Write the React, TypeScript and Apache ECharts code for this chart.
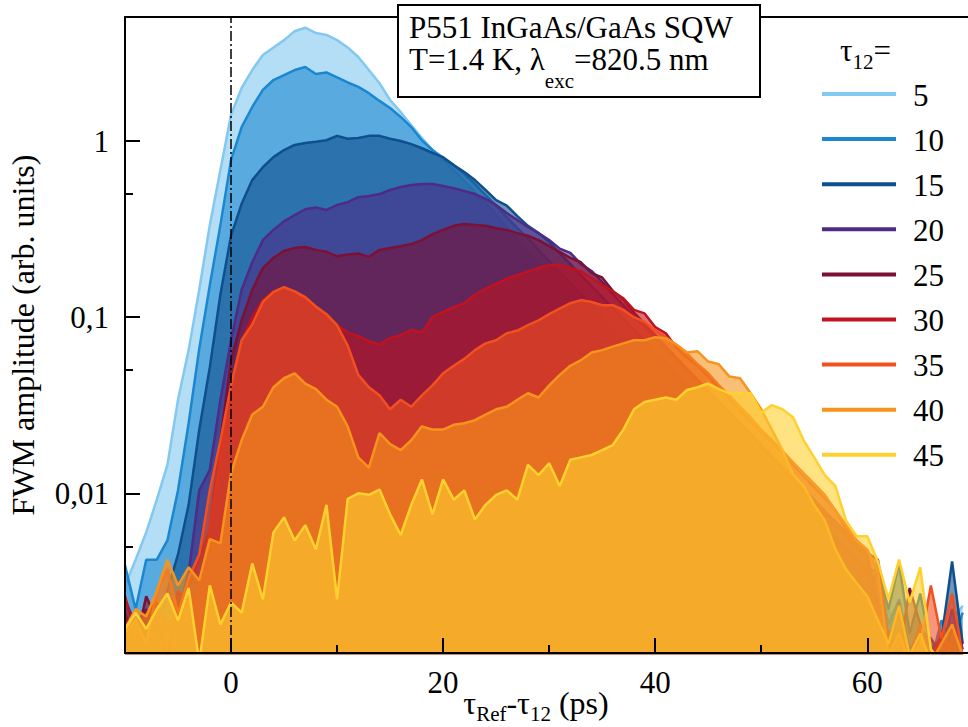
import React, { useEffect, useRef } from 'react';
import * as echarts from 'echarts';

const FONT = 'Liberation Serif, Times New Roman, serif';

// delay axis tau_Ref - tau_12 (ps)
const delays = [
  -10, -9, -8, -7, -6, -5, -4, -3, -2, -1,
  0, 1, 2, 3, 4, 5, 6, 7, 8, 9,
  10, 11, 12, 13, 14, 15, 16, 17, 18, 19,
  20, 21, 22, 23, 24, 25, 26, 27, 28, 29,
  30, 31, 32, 33, 34, 35, 36, 37, 38, 39,
  40, 41, 42, 43, 44, 45, 46, 47, 48, 49,
  50, 51, 52, 53, 54, 55, 56, 57, 58, 59,
  60, 61, 62, 63, 64, 65, 66, 67, 68, 69,
];

const tau12 = ['5', '10', '15', '20', '25', '30', '35', '40', '45'];
const colors = ['#82c8f0', '#1b87d1', '#0f4f8e', '#4d2b86', '#7b1136', '#c1121f', '#f3501f', '#f7941d', '#ffd12e'];

const fwm5 = [
  0.003, 0.0042, 0.006, 0.0092, 0.0145, 0.034, 0.065, 0.143, 0.334, 0.684,
  1.41, 2.0, 2.53, 3.08, 3.4, 3.74, 4.2, 4.4, 4.1, 4.0,
  3.74, 3.4, 3.0, 2.53, 2.13, 1.71, 1.46, 1.23, 1.04, 0.889,
  0.78, 0.684, 0.594, 0.514, 0.445, 0.38, 0.325, 0.278, 0.237, 0.203,
  0.173, 0.148, 0.127, 0.108, 0.093, 0.079, 0.068, 0.058, 0.05, 0.042,
  0.036, 0.031, 0.0265, 0.0226, 0.0195, 0.0165, 0.0141, 0.012, 0.0103, 0.0088,
  0.0075, 0.0064, 0.0055, 0.0047, 0.004, 0.0034, 0.0029, 0.0025, 0.0021, 0.0018,
  0.0016, 0.0042, 0.0022, 0.0016, 0.0012, 0.0011, 0.0014, 0.0013, 0.0019, 0.0023,
];
const fwm10 = [
  0.0039, 0.0022, 0.0042, 0.0042, 0.0054, 0.0104, 0.025, 0.066, 0.152, 0.334,
  0.78, 1.2, 1.56, 1.95, 2.22, 2.37, 2.53, 2.63, 2.4, 2.45,
  2.3, 2.15, 2.03, 1.87, 1.69, 1.54, 1.37, 1.2, 1.01, 0.889,
  0.8, 0.73, 0.65, 0.57, 0.494, 0.43, 0.37, 0.32, 0.28, 0.241,
  0.208, 0.18, 0.156, 0.135, 0.117, 0.101, 0.088, 0.076, 0.066, 0.057,
  0.05, 0.043, 0.037, 0.032, 0.028, 0.024, 0.021, 0.018, 0.0157, 0.0136,
  0.0117, 0.0101, 0.0088, 0.0076, 0.0066, 0.0057, 0.0049, 0.0043, 0.0037, 0.0032,
  0.0028, 0.0035, 0.0018, 0.0025, 0.0013, 0.0016, 0.0011, 0.0019, 0.0014, 0.0021,
];
const fwm15 = [
  0.0025, 0.0018, 0.0022, 0.0016, 0.0028, 0.0045, 0.0086, 0.0229, 0.052, 0.135,
  0.29, 0.44, 0.6, 0.71, 0.81, 0.889, 0.95, 0.975, 0.99, 1.01,
  1.07, 1.03, 1.04, 1.07, 1.07, 1.03, 1.0, 0.96, 0.91, 0.855,
  0.81, 0.73, 0.667, 0.6, 0.527, 0.462, 0.43, 0.375, 0.33, 0.3,
  0.267, 0.23, 0.2, 0.173, 0.15, 0.13, 0.113, 0.098, 0.085, 0.073,
  0.063, 0.055, 0.048, 0.041, 0.036, 0.031, 0.027, 0.023, 0.02, 0.0174,
  0.015, 0.013, 0.0113, 0.0098, 0.0085, 0.0073, 0.0064, 0.0055, 0.0048, 0.0042,
  0.0036, 0.0037, 0.0022, 0.004, 0.0016, 0.0027, 0.0013, 0.0015, 0.0041, 0.0014,
];
const fwm20 = [
  0.0015, 0.0021, 0.0013, 0.0024, 0.0018, 0.0021, 0.0035, 0.0104, 0.0136, 0.034,
  0.074, 0.143, 0.205, 0.274, 0.313, 0.35, 0.38, 0.41, 0.42, 0.406,
  0.433, 0.45, 0.48, 0.487, 0.5, 0.527, 0.548, 0.563, 0.57, 0.57,
  0.555, 0.54, 0.52, 0.5, 0.47, 0.433, 0.39, 0.356, 0.325, 0.3,
  0.274, 0.245, 0.232, 0.2, 0.183, 0.158, 0.135, 0.117, 0.101, 0.088,
  0.076, 0.066, 0.057, 0.05, 0.043, 0.037, 0.032, 0.028, 0.024, 0.021,
  0.018, 0.0157, 0.0136, 0.0117, 0.0101, 0.0088, 0.0076, 0.0066, 0.0057, 0.0049,
  0.0043, 0.0019, 0.0013, 0.0024, 0.0011, 0.0017, 0.0015, 0.0012, 0.0022, 0.0013,
];
const fwm25 = [
  0.0021, 0.0014, 0.0026, 0.0019, 0.0012, 0.0023, 0.003, 0.0042, 0.0062, 0.02,
  0.057, 0.096, 0.143, 0.19, 0.217, 0.238, 0.247, 0.25, 0.241, 0.235,
  0.222, 0.227, 0.23, 0.22, 0.241, 0.247, 0.253, 0.26, 0.274, 0.296,
  0.313, 0.33, 0.338, 0.334, 0.33, 0.32, 0.313, 0.3, 0.29, 0.274,
  0.253, 0.235, 0.217, 0.205, 0.178, 0.168, 0.141, 0.126, 0.106, 0.092,
  0.079, 0.068, 0.059, 0.051, 0.044, 0.0386, 0.0333, 0.029, 0.025, 0.0218,
  0.0188, 0.0163, 0.0141, 0.0123, 0.0106, 0.0092, 0.0079, 0.0069, 0.006, 0.0052,
  0.0045, 0.0024, 0.0016, 0.0012, 0.0029, 0.0018, 0.0013, 0.0011, 0.0017, 0.0014,
];
const fwm30 = [
  0.0026, 0.0016, 0.0021, 0.0024, 0.0015, 0.0028, 0.0022, 0.0028, 0.0062, 0.0155,
  0.041, 0.074, 0.1, 0.125, 0.14, 0.146, 0.14, 0.125, 0.113, 0.103,
  0.09, 0.082, 0.078, 0.073, 0.07, 0.076, 0.079, 0.0845, 0.082, 0.1,
  0.107, 0.114, 0.12, 0.134, 0.145, 0.154, 0.165, 0.173, 0.182, 0.19,
  0.198, 0.198, 0.19, 0.182, 0.167, 0.152, 0.14, 0.128, 0.11, 0.105,
  0.088, 0.081, 0.067, 0.059, 0.053, 0.046, 0.04, 0.0345, 0.0297, 0.0257,
  0.0224, 0.0195, 0.017, 0.0145, 0.0126, 0.0108, 0.0094, 0.008, 0.0063, 0.0054,
  0.0046, 0.0042, 0.0015, 0.0021, 0.0012, 0.0018, 0.0011, 0.0016, 0.0013, 0.0012,
];
const fwm35 = [
  0.0016, 0.0019, 0.0014, 0.0028, 0.0037, 0.0021, 0.0033, 0.0045, 0.0104, 0.02,
  0.041, 0.074, 0.091, 0.122, 0.139, 0.148, 0.14, 0.13, 0.115, 0.104,
  0.09, 0.069, 0.047, 0.04, 0.036, 0.03, 0.034, 0.031, 0.036, 0.041,
  0.048, 0.053, 0.058, 0.065, 0.071, 0.074, 0.081, 0.084, 0.09, 0.096,
  0.104, 0.112, 0.12, 0.125, 0.122, 0.117, 0.117, 0.11, 0.1, 0.094,
  0.084, 0.077, 0.0695, 0.062, 0.054, 0.048, 0.041, 0.036, 0.031, 0.027,
  0.023, 0.0201, 0.0174, 0.015, 0.013, 0.0113, 0.0098, 0.008, 0.0066, 0.0054,
  0.0048, 0.0036, 0.0012, 0.0016, 0.0011, 0.0014, 0.003, 0.0015, 0.0027, 0.0012,
];
const fwm40 = [
  0.0017, 0.0022, 0.002, 0.0028, 0.0042, 0.003, 0.0038, 0.0032, 0.0055, 0.0052,
  0.013, 0.02, 0.028, 0.031, 0.04, 0.045, 0.048, 0.042, 0.039, 0.034,
  0.031, 0.024, 0.016, 0.014, 0.022, 0.019, 0.0176, 0.02, 0.024, 0.023,
  0.023, 0.0245, 0.025, 0.026, 0.028, 0.03, 0.031, 0.034, 0.037, 0.035,
  0.041, 0.047, 0.053, 0.057, 0.063, 0.065, 0.068, 0.071, 0.074, 0.074,
  0.077, 0.076, 0.07, 0.063, 0.064, 0.056, 0.054, 0.046, 0.045, 0.037,
  0.03, 0.023, 0.0176, 0.0128, 0.011, 0.0086, 0.007, 0.0048, 0.0037, 0.0031,
  0.0026, 0.0019, 0.0014, 0.0023, 0.0012, 0.0016, 0.0011, 0.0014, 0.0018, 0.0012,
];
const fwm45 = [
  0.0017, 0.0021, 0.0017, 0.0022, 0.0027, 0.0019, 0.0029, 0.0011, 0.003, 0.0018,
  0.0024, 0.0021, 0.004, 0.0025, 0.006, 0.0073, 0.0054, 0.0066, 0.0048, 0.0086,
  0.0025, 0.0093, 0.01, 0.0098, 0.0105, 0.0076, 0.0058, 0.0086, 0.012, 0.0076,
  0.012, 0.0092, 0.0104, 0.0071, 0.0086, 0.0098, 0.0104, 0.0092, 0.0145, 0.0127,
  0.0148, 0.011, 0.0155, 0.016, 0.0165, 0.0176, 0.0188, 0.023, 0.03, 0.033,
  0.034, 0.035, 0.034, 0.0386, 0.04, 0.042, 0.039, 0.037, 0.037, 0.037,
  0.0287, 0.0317, 0.03, 0.027, 0.02, 0.016, 0.0127, 0.011, 0.007, 0.0057,
  0.0057, 0.0041, 0.0025, 0.0042, 0.0024, 0.0038, 0.0013, 0.0011, 0.0012, 0.0011,
];

const seriesValues = [fwm5, fwm10, fwm15, fwm20, fwm25, fwm30, fwm35, fwm40, fwm45];

const xMajorTicks = [0, 20, 40, 60];
const xMinorTicks = [10, 30, 50];
const yMinorTicks = [0.005, 0.05, 0.5];

const X_MIN = -10;
const X_MAX = 69.5;
const Y_MIN = 0.00124;
const Y_MAX = 5.06;

const boxText = '{m|P551 InGaAs/GaAs SQW}\n{m|T=1.4 K, λ}{s|exc}{m|=820.5 nm}';
const legendTitle = '{m|τ}{s|12}{m|=}';
const xTitle = '{m|τ}{s|Ref}{m|-τ}{s|12}{m| (ps)}';
const yTitle = 'FWM amplitude (arb. units)';

function isDecade(v: number) {
  const l = Math.log10(v);
  return Math.abs(l - Math.round(l)) < 1e-6;
}

function buildOption() {
  const black = { color: '#000', width: 2 };
  const legendY0 = 94;
  const legendStep = 45.1;

  const series = seriesValues.map((vals, i) => {
    const s: any = {
      type: 'line',
      name: tau12[i],
      xAxisIndex: 0,
      yAxisIndex: 0,
      data: delays.map((t, j) => [t, vals[j]]),
      symbol: 'none',
      showSymbol: false,
      smooth: false,
      clip: true,
      color: colors[i],
      lineStyle: { color: colors[i], width: 2.5 },
      itemStyle: { color: colors[i] },
      areaStyle: { color: colors[i], opacity: 0.6, origin: 0.0005 },
      z: 1 + i * 0.4,
    };
    if (i === seriesValues.length - 1) {
      s.markLine = {
        silent: true,
        z: 8,
        symbol: ['none', 'none'],
        label: { show: false },
        lineStyle: { color: '#000', width: 1.5, type: [10, 3, 2, 3] },
        data: [{ xAxis: 0 }],
      };
    }
    return s;
  });

  const graphic: any[] = [
    {
      type: 'rect',
      z: 100,
      shape: { x: 398, y: 5, width: 362, height: 92 },
      style: { fill: '#fff', stroke: '#000', lineWidth: 2 },
    },
    {
      type: 'text',
      z: 101,
      x: 409,
      y: 11,
      style: {
        text: boxText,
        align: 'left',
        verticalAlign: 'top',
        rich: {
          m: { fontSize: 31, fontFamily: FONT, fill: '#000', lineHeight: 32 },
          s: { fontSize: 21, fontFamily: FONT, fill: '#000', lineHeight: 32, padding: [44, 0, 0, 0] },
        },
      },
    },
    {
      type: 'text',
      z: 101,
      x: 840,
      y: 34.5,
      style: {
        text: legendTitle,
        align: 'left',
        verticalAlign: 'top',
        rich: {
          m: { fontSize: 31, fontFamily: FONT, fill: '#000', lineHeight: 31 },
          s: { fontSize: 21, fontFamily: FONT, fill: '#000', lineHeight: 31, padding: [24, 0, 0, 0] },
        },
      },
    },
    {
      type: 'text',
      z: 101,
      x: 536,
      y: 703,
      style: {
        text: xTitle,
        align: 'center',
        verticalAlign: 'middle',
        rich: {
          m: { fontSize: 32, fontFamily: FONT, fill: '#000', lineHeight: 32 },
          s: { fontSize: 21, fontFamily: FONT, fill: '#000', lineHeight: 32, padding: [22, 0, 0, 0] },
        },
      },
    },
  ];
  tau12.forEach((lab, i) => {
    const y = legendY0 + i * legendStep;
    graphic.push({
      type: 'line',
      z: 100,
      shape: { x1: 822, y1: y, x2: 896, y2: y },
      style: { stroke: colors[i], lineWidth: 4 },
    });
    graphic.push({
      type: 'text',
      z: 100,
      x: 913,
      y: y + 1,
      style: { text: lab, fontSize: 31, fontFamily: FONT, fill: '#000', align: 'left', verticalAlign: 'middle' },
    });
  });

  return {
    animation: false,
    backgroundColor: '#fff',
    grid: { left: 125, top: 17, right: 0, bottom: 74, containLabel: false, outerBoundsMode: 'none' },
    xAxis: [
      {
        type: 'value',
        min: X_MIN,
        max: X_MAX,
        position: 'bottom',
        z: 10,
        axisLine: { show: true, onZero: false, lineStyle: black },
        axisTick: { show: true, inside: true, length: 15, lineStyle: black, customValues: xMajorTicks },
        axisLabel: { show: true, customValues: xMajorTicks, fontSize: 31, fontFamily: FONT, color: '#000', margin: 14 },
        splitLine: { show: false },
      },
      {
        type: 'value',
        min: X_MIN,
        max: X_MAX,
        position: 'bottom',
        z: 10,
        axisLine: { show: false, onZero: false },
        axisTick: { show: true, inside: true, length: 8, lineStyle: black, customValues: xMinorTicks },
        axisLabel: { show: false },
        splitLine: { show: false },
      },
      {
        type: 'value',
        min: X_MIN,
        max: X_MAX,
        position: 'top',
        z: 10,
        axisLine: { show: true, onZero: false, lineStyle: black },
        axisTick: { show: false },
        axisLabel: { show: false },
        splitLine: { show: false },
      },
    ],
    yAxis: [
      {
        type: 'log',
        logBase: 10,
        min: Y_MIN,
        max: Y_MAX,
        position: 'left',
        z: 10,
        axisLine: { show: true, onZero: false, lineStyle: black },
        axisTick: { show: true, inside: true, length: 15, lineStyle: black },
        minorTick: { show: false },
        axisLabel: {
          fontSize: 31,
          fontFamily: FONT,
          color: '#000',
          margin: 16,
          showMinLabel: false,
          showMaxLabel: false,
          formatter: (v: number) => (isDecade(v) ? String(v).replace('.', ',') : ''),
        },
        splitLine: { show: false },
        name: yTitle,
        nameLocation: 'middle',
        nameGap: 86,
        nameTextStyle: { fontSize: 32, fontFamily: FONT, color: '#000' },
      },
      {
        type: 'value',
        min: Math.log10(Y_MIN),
        max: Math.log10(Y_MAX),
        position: 'left',
        z: 10,
        axisLine: { show: false, onZero: false },
        axisTick: { show: true, inside: true, length: 8, lineStyle: black, customValues: yMinorTicks.map((v) => Math.log10(v)) },
        axisLabel: { show: false },
        splitLine: { show: false },
      },
    ],
    graphic,
    series,
  };
}

export default function App() {
  const ref = useRef<HTMLDivElement>(null);
  useEffect(() => {
    document.body.style.margin = '0';
    const chart = echarts.init(ref.current as HTMLDivElement, null, { renderer: 'svg' });
    chart.setOption(buildOption() as any);
    return () => chart.dispose();
  }, []);
  return <div ref={ref} style={{ width: 968, height: 727 }} />;
}
